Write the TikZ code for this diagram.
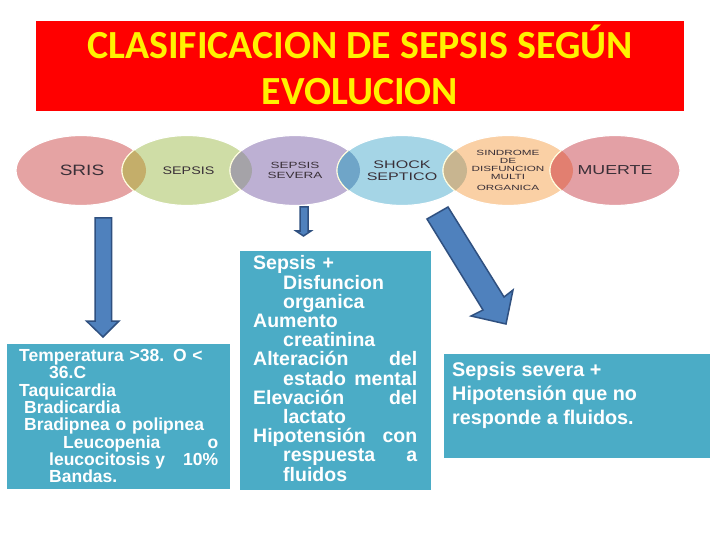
\documentclass[tikz,border=0pt]{standalone}
\usepackage{fontspec}
\usepackage{graphicx}
\setmainfont{Liberation Sans}
\newfontfamily\titlefont{Carlito}
\usetikzlibrary{shapes.geometric}
\definecolor{boxblue}{HTML}{4BACC6}
\definecolor{arrowfill}{HTML}{4F81BD}
\definecolor{arrowline}{HTML}{2F5080}
\definecolor{inkdark}{HTML}{3A3038}
\definecolor{cSris}{HTML}{E5A3A3}
\definecolor{cSepsis}{HTML}{CFDDA6}
\definecolor{cSevera}{HTML}{BDB0D3}
\definecolor{cShock}{HTML}{A5D5E6}
\definecolor{cSind}{HTML}{FAD0A5}
\definecolor{cMuerte}{HTML}{E3A0A5}
\definecolor{lensA}{HTML}{C4AE6A}
\definecolor{lensB}{HTML}{A5A3A8}
\definecolor{lensC}{HTML}{6FA5C8}
\definecolor{lensD}{HTML}{C8B590}
\definecolor{lensE}{HTML}{E27F70}
\newcommand{\wide}[2][1.25]{\scalebox{#1}[1]{#2}}
\newcommand{\rowj}[3][0pt]{\hspace*{#1}#2\hfill#3\\}
\newcommand{\rowl}[2][0pt]{\hspace*{#1}#2\\}
% \lensfill{cx1}{cx2}{colour}
\newcommand{\lensfill}[3]{%
  \begin{scope}
    \clip (#1,170.5) ellipse [x radius=65pt,y radius=35pt];
    \fill[#3,draw=white!85!yellow,line width=1pt] (#2,170.5) ellipse [x radius=65pt,y radius=35pt];
  \end{scope}}
\tikzset{
  blob/.style={ellipse,draw=white,line width=1.2pt,inner sep=0pt,minimum height=70pt,minimum width=130pt,align=center},
  blobtext/.style={inner sep=0pt,align=center,text=inkdark},
  infobox/.style={rectangle,fill=boxblue,inner sep=0pt},
  infotext/.style={inner sep=0pt,text=white,align=left,font=\bfseries},
  blockarrow/.style={fill=arrowfill,draw=arrowline,line width=1.5pt,line join=miter},
  titletext/.style={inner sep=0pt,text=yellow,font=\titlefont\bfseries\fontsize{39.9}{46.5}\selectfont,align=center}
}
\begin{document}
\begin{tikzpicture}[x=1pt,y=-1pt]
\useasboundingbox (0,0) rectangle (720,540);
\fill[white] (0,0) rectangle (720,540);
% title
\node[rectangle,fill=red,minimum width=648pt,minimum height=90pt,inner sep=0pt] (titlebox) at (360,66) {};
\node[titletext] (title) at (360,65) {CLASIFICACION DE SEPSIS SEGÚN\\EVOLUCION};
% ellipses
\node[blob,fill=cSris] (sris) at (81,170.5) {};
\node[blob,fill=cSepsis] (sepsis) at (187,170.5) {};
\node[blob,fill=cSevera] (severa) at (295,170.5) {};
\node[blob,fill=cShock] (shock) at (402,170.5) {};
\node[blob,fill=cSind] (sind) at (508,170.5) {};
\node[blob,fill=cMuerte] (muerte) at (615,170.5) {};
\lensfill{81}{187}{lensA}
\lensfill{187}{295}{lensB}
\lensfill{295}{402}{lensC}
\lensfill{402}{508}{lensD}
\lensfill{508}{615}{lensE}
% ellipse labels
\node[blobtext,font=\fontsize{15}{15}\selectfont] (srisT) at (82,170.5) {\wide[1.27]{SRIS}};
\node[blobtext,font=\fontsize{11}{11}\selectfont] (sepsisT) at (188.5,170.5) {\wide[1.3]{SEPSIS}};
\node[blobtext,font=\fontsize{9}{10.5}\selectfont] (severaT) at (severa) {\wide[1.5]{SEPSIS}\\\wide[1.5]{SEVERA}};
\node[blobtext,font=\fontsize{11}{11.5}\selectfont] (shockT) at (shock) {\wide[1.46]{SHOCK}\\\wide[1.46]{SEPTICO}};
\node[blobtext,font=\fontsize{7.5}{8}\selectfont] (sindT) at (sind) {\wide[1.56]{SINDROME}\\\wide[1.56]{DE}\\\wide[1.56]{DISFUNCION}\\\wide[1.56]{MULTI}\\[3pt]\wide[1.56]{ORGANICA}};
\node[blobtext,font=\fontsize{13}{13}\selectfont] (muerteT) at (muerte) {\wide[1.37]{MUERTE}};
% block arrows
\draw[blockarrow] (95,218) -- (111.5,218) -- (111.5,321) -- (119,321) -- (103,337) -- (86.5,321) -- (95,321) -- cycle;
\draw[blockarrow] (300,207) -- (308,207) -- (308,231) -- (311,231) -- (303.5,236) -- (296,231) -- (300,231) -- cycle;
\draw[blockarrow] (427,219) -- (448,207) -- (504,297) -- (513,290) -- (506,324) -- (471,316) -- (483,310) -- cycle;
% boxes
\node[infobox,minimum width=223pt,minimum height=145pt] (boxA) at (118.5,416.5) {};
\node[infobox,minimum width=191pt,minimum height=239pt] (boxB) at (335.5,370.5) {};
\node[infobox,minimum width=266pt,minimum height=104pt] (boxC) at (577,406) {};
\node[infotext,text width=199pt,font=\bfseries\fontsize{17.5}{17.35}\selectfont,anchor=north west] (textA) at (19,349) {%
\rowl{Temperatura >38. O <}
\rowl[30pt]{36.C}
\rowl{Taquicardia}
\rowl[5pt]{Bradicardia}
\rowl[5pt]{Bradipnea o polipnea}
\rowj[44pt]{Leucopenia}{o}
\rowj[30pt]{leucocitosis\hspace{5pt}y}{10\%}
\rowl[30pt]{Bandas.}};
\node[infotext,text width=164pt,font=\bfseries\fontsize{19.5}{19.2}\selectfont,anchor=north west] (textB) at (253,255.5) {%
\rowl{Sepsis +}
\rowl[30pt]{Disfuncion}
\rowl[30pt]{organica}
\rowl{Aumento}
\rowl[30pt]{creatinina}
\rowj{Alteración}{del}
\rowj[30pt]{estado}{mental}
\rowj{Elevación}{del}
\rowl[30pt]{lactato}
\rowj{Hipotensión}{con}
\rowj[30pt]{respuesta}{a}
\rowl[30pt]{fluidos}};
\node[infotext,font=\bfseries\fontsize{19.8}{24}\selectfont,anchor=north west] (textC) at (452,362) {%
Sepsis severa +\\Hipotensión que no\\responde a fluidos.};
\end{tikzpicture}
\end{document}
